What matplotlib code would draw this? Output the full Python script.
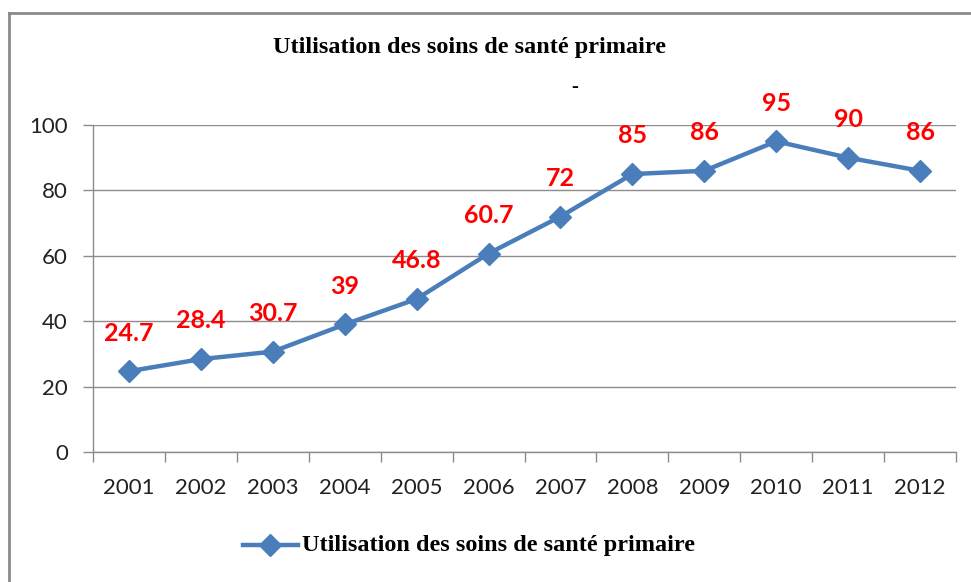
import matplotlib
matplotlib.use("Agg")
import matplotlib.pyplot as plt
from matplotlib.lines import Line2D
import numpy as np

years = ["2001", "2002", "2003", "2004", "2005", "2006", "2007", "2008", "2009", "2010", "2011", "2012"]
values = [24.7, 28.4, 30.7, 39, 46.8, 60.7, 72, 85, 86, 95, 90, 86]
labels = ["24.7", "28.4", "30.7", "39", "46.8", "60.7", "72", "85", "86", "95", "90", "86"]
title = "Utilisation des soins de santé primaire"
series_name = "Utilisation des soins de santé primaire"

W, H = 971, 582
fig = plt.figure(figsize=(W / 100, H / 100), dpi=100)
ax = fig.add_axes([93 / W, 1 - 452 / H, (956 - 93) / W, (452 - 125) / H])

blue = "#4a7ebb"
grid_c = "#8c8c8c"
x = np.arange(len(years))
ax.plot(x, values, color=blue, lw=3.2, marker="D", markersize=11, zorder=3)

for xi, v, lab in zip(x, values, labels):
    ax.annotate(lab, (xi, v), xytext=(0, 27.5), textcoords="offset points",
                ha="center", va="center", color="#ff0000", fontsize=18,
                fontweight="bold", family="Lato", zorder=4)

ax.set_xlim(-0.5, len(years) - 0.5)
ax.set_ylim(0, 100)
ax.set_yticks(np.arange(0, 101, 20))
ax.yaxis.grid(True, color=grid_c, lw=1.0)
ax.set_axisbelow(True)
ax.set_xticks(x)
ax.set_xticklabels(years)
ax.set_xticks(np.arange(-0.5, len(years), 1), minor=True)
ax.tick_params(axis="x", which="major", length=0, pad=19, labelsize=16, labelcolor="#222222")
ax.tick_params(axis="x", which="minor", length=7, width=1, color=grid_c, direction="out")
ax.tick_params(axis="y", length=7, width=1, color=grid_c, pad=11, labelsize=16, labelcolor="#222222")
for lab in ax.get_xticklabels() + ax.get_yticklabels():
    lab.set_family("Lato")
for s in ["top", "right"]:
    ax.spines[s].set_visible(False)
for s in ["left", "bottom"]:
    ax.spines[s].set_color(grid_c)
    ax.spines[s].set_linewidth(1.0)

fig.text(469 / W, 1 - 48 / H, title, ha="center", va="center", family="Liberation Serif",
         fontweight="bold", fontsize=17.5)
fig.text(575 / W, 1 - 87 / H, "-", ha="center", va="center", family="Liberation Serif",
         fontweight="bold", fontsize=15)

# legend
fig.add_artist(Line2D([243 / W, 298 / W], [1 - 545 / H, 1 - 545 / H], color=blue, lw=3.2,
                      transform=fig.transFigure))
fig.add_artist(Line2D([270 / W], [1 - 545 / H], color=blue, marker="D", markersize=11,
                      transform=fig.transFigure))
fig.text(302 / W, 1 - 545 / H, series_name, ha="left", va="center", family="Liberation Serif",
         fontweight="bold", fontsize=17.5)

# outer frame (left and top edges)
fig.add_artist(Line2D([9 / W, 9 / W], [0, 1 - 13 / H], color="#8a8a8a", lw=2, transform=fig.transFigure))
fig.add_artist(Line2D([9 / W, 1], [1 - 13 / H, 1 - 13 / H], color="#8a8a8a", lw=2, transform=fig.transFigure))

fig.savefig("out.png", dpi=100)
